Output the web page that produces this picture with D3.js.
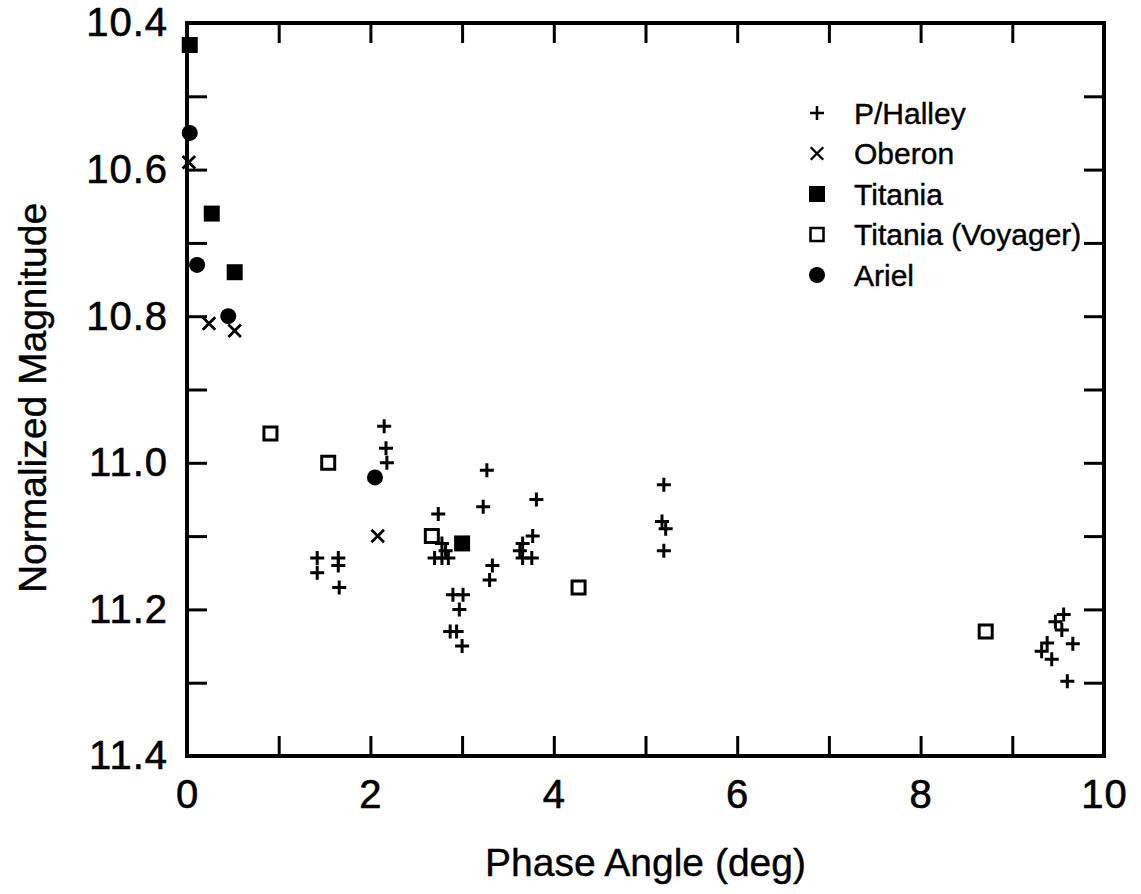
<!DOCTYPE html>
<html>
<head>
<meta charset="utf-8">
<script src="https://cdn.jsdelivr.net/npm/d3@7"></script>
<style>
  body { margin: 0; background: #fff; }
  svg { display: block; font-family: "Liberation Sans", Arial, Helvetica, sans-serif; }
  .tick-label { font-size: 40px; fill: #000; stroke: #000; stroke-width: 0.6px; letter-spacing: 1px; }
  .axis-label { font-size: 39px; fill: #000; stroke: #000; stroke-width: 0.4px; }
  .legend-text { font-size: 30px; fill: #000; stroke: #000; stroke-width: 0.4px; }
</style>
</head>
<body>
<div id="chart"></div>
<script>
// [phase angle (deg), normalized magnitude]
const halley = [
  [2.15, 10.95], [2.17, 10.98], [2.18, 11.00],
  [1.42, 11.13], [1.42, 11.15], [1.65, 11.13], [1.65, 11.14], [1.66, 11.17],
  [2.74, 11.07], [2.78, 11.11], [2.70, 11.13], [2.78, 11.13], [2.85, 11.13], [2.82, 11.12],
  [3.23, 11.06], [3.27, 11.01], [3.33, 11.14], [3.30, 11.16],
  [2.90, 11.18], [3.01, 11.18], [2.97, 11.20], [2.87, 11.23], [2.94, 11.23], [3.00, 11.25],
  [3.81, 11.05], [3.77, 11.10], [3.66, 11.11], [3.63, 11.12], [3.66, 11.13], [3.76, 11.13],
  [5.20, 11.03], [5.18, 11.08], [5.22, 11.09], [5.20, 11.12],
  [9.56, 11.207], [9.47, 11.217], [9.54, 11.228], [9.66, 11.247],
  [9.38, 11.246], [9.32, 11.257], [9.43, 11.268], [9.60, 11.298]
];
const oberon = [[0.02, 10.59], [0.24, 10.81], [0.52, 10.82], [2.08, 11.10]];
const titania = [[0.03, 10.43], [0.27, 10.66], [0.52, 10.74], [3.00, 11.11]];
const titaniaVoyager = [[0.91, 10.96], [1.54, 11.00], [2.67, 11.10], [4.27, 11.17], [8.71, 11.23]];
const ariel = [[0.03, 10.55], [0.11, 10.73], [0.45, 10.80], [2.05, 11.02]];

const seriesNames = ["P/Halley", "Oberon", "Titania", "Titania (Voyager)", "Ariel"];
const xTicks = [0, 1, 2, 3, 4, 5, 6, 7, 8, 9, 10];
const yTicks = [10.4, 10.5, 10.6, 10.7, 10.8, 10.9, 11.0, 11.1, 11.2, 11.3, 11.4];

// custom line symbols for d3.symbol()
const plusSymbol = {
  draw(ctx, size) {
    const r = Math.sqrt(size) / 2;
    ctx.moveTo(-r, 0); ctx.lineTo(r, 0);
    ctx.moveTo(0, -r); ctx.lineTo(0, r);
  }
};
const timesSymbol = {
  draw(ctx, size) {
    const r = Math.sqrt(size) / 2;
    ctx.moveTo(-r, -r); ctx.lineTo(r, r);
    ctx.moveTo(-r, r); ctx.lineTo(r, -r);
  }
};

const markers = {
  "P/Halley": {data: halley, type: plusSymbol, size: 14 * 14, fill: "none", stroke: "#000", sw: 3},
  "Oberon": {data: oberon, type: timesSymbol, size: 12.5 * 12.5, fill: "none", stroke: "#000", sw: 2.8},
  "Titania": {data: titania, type: d3.symbolSquare, size: 16 * 16, fill: "#000", stroke: "none", sw: 0},
  "Titania (Voyager)": {data: titaniaVoyager, type: d3.symbolSquare, size: 13 * 13, fill: "none", stroke: "#000", sw: 3},
  "Ariel": {data: ariel, type: d3.symbolCircle, size: Math.PI * 8 * 8, fill: "#000", stroke: "none", sw: 0}
};

const width = 1141, height = 894;
const plot = {left: 187, right: 1104, top: 23, bottom: 756};

const svg = d3.select("#chart").append("svg")
    .attr("width", width)
    .attr("height", height);

const x = d3.scaleLinear().domain([0, 10]).range([plot.left, plot.right]);
const y = d3.scaleLinear().domain([10.4, 11.4]).range([plot.top, plot.bottom]);

const evenOnly = (v, fmt) => Math.round(v * 10) % 2 === 0 ? fmt(v) : "";

// Axes with inward ticks
const tickLen = 20;
const axes = [
  {axis: d3.axisBottom(x).tickValues(xTicks).tickFormat(d => d % 2 === 0 ? d3.format("d")(d) : ""), t: `translate(0,${plot.bottom})`, cls: "x-bottom"},
  {axis: d3.axisTop(x).tickValues(xTicks).tickFormat(""), t: `translate(0,${plot.top})`, cls: "x-top"},
  {axis: d3.axisLeft(y).tickValues(yTicks).tickFormat(d => evenOnly(d, d3.format(".1f"))), t: `translate(${plot.left},0)`, cls: "y-left"},
  {axis: d3.axisRight(y).tickValues(yTicks).tickFormat(""), t: `translate(${plot.right},0)`, cls: "y-right"}
];

axes.forEach(a => {
  const g = svg.append("g")
      .attr("class", a.cls)
      .attr("transform", a.t)
      .call(a.axis.tickSizeInner(-tickLen).tickSizeOuter(0).tickPadding(10));
  g.select(".domain").remove();
  g.selectAll(".tick line").attr("stroke", "#000").attr("stroke-width", 3);
  g.selectAll(".tick text")
      .attr("class", "tick-label")
      .attr("font-size", null)
      .attr("font-family", null);
});

svg.selectAll(".x-bottom .tick-label").attr("dy", "1.05em");
svg.selectAll(".y-left .tick-label").attr("x", -19);

// Frame
svg.append("rect")
    .attr("x", plot.left)
    .attr("y", plot.top)
    .attr("width", plot.right - plot.left)
    .attr("height", plot.bottom - plot.top)
    .attr("fill", "none")
    .attr("stroke", "#000")
    .attr("stroke-width", 4);

// Markers
seriesNames.forEach(name => {
  const m = markers[name];
  svg.append("g").selectAll("path")
      .data(m.data)
    .join("path")
      .attr("transform", d => `translate(${x(d[0])},${y(d[1])})`)
      .attr("d", d3.symbol().type(m.type).size(m.size))
      .attr("fill", m.fill)
      .attr("stroke", m.stroke)
      .attr("stroke-width", m.sw);
});

// Legend
const legend = svg.append("g").attr("transform", "translate(817,113)");
const items = legend.selectAll("g")
    .data(seriesNames)
  .join("g")
    .attr("transform", (d, i) => `translate(0,${i * 40.5})`);
items.append("path")
    .attr("d", d => d3.symbol().type(markers[d].type).size(markers[d].size)())
    .attr("fill", d => markers[d].fill)
    .attr("stroke", d => markers[d].stroke)
    .attr("stroke-width", d => markers[d].sw * 0.85);
items.append("text")
    .attr("class", "legend-text")
    .attr("x", 37)
    .attr("dy", "0.36em")
    .text(d => d);

// Axis titles
svg.append("text")
    .attr("class", "axis-label")
    .attr("x", (plot.left + plot.right) / 2)
    .attr("y", 876)
    .attr("text-anchor", "middle")
    .text("Phase Angle (deg)");

svg.append("text")
    .attr("class", "axis-label")
    .attr("transform", "translate(46,398) rotate(-90)")
    .attr("text-anchor", "middle")
    .text("Normalized Magnitude");
</script>
</body>
</html>
